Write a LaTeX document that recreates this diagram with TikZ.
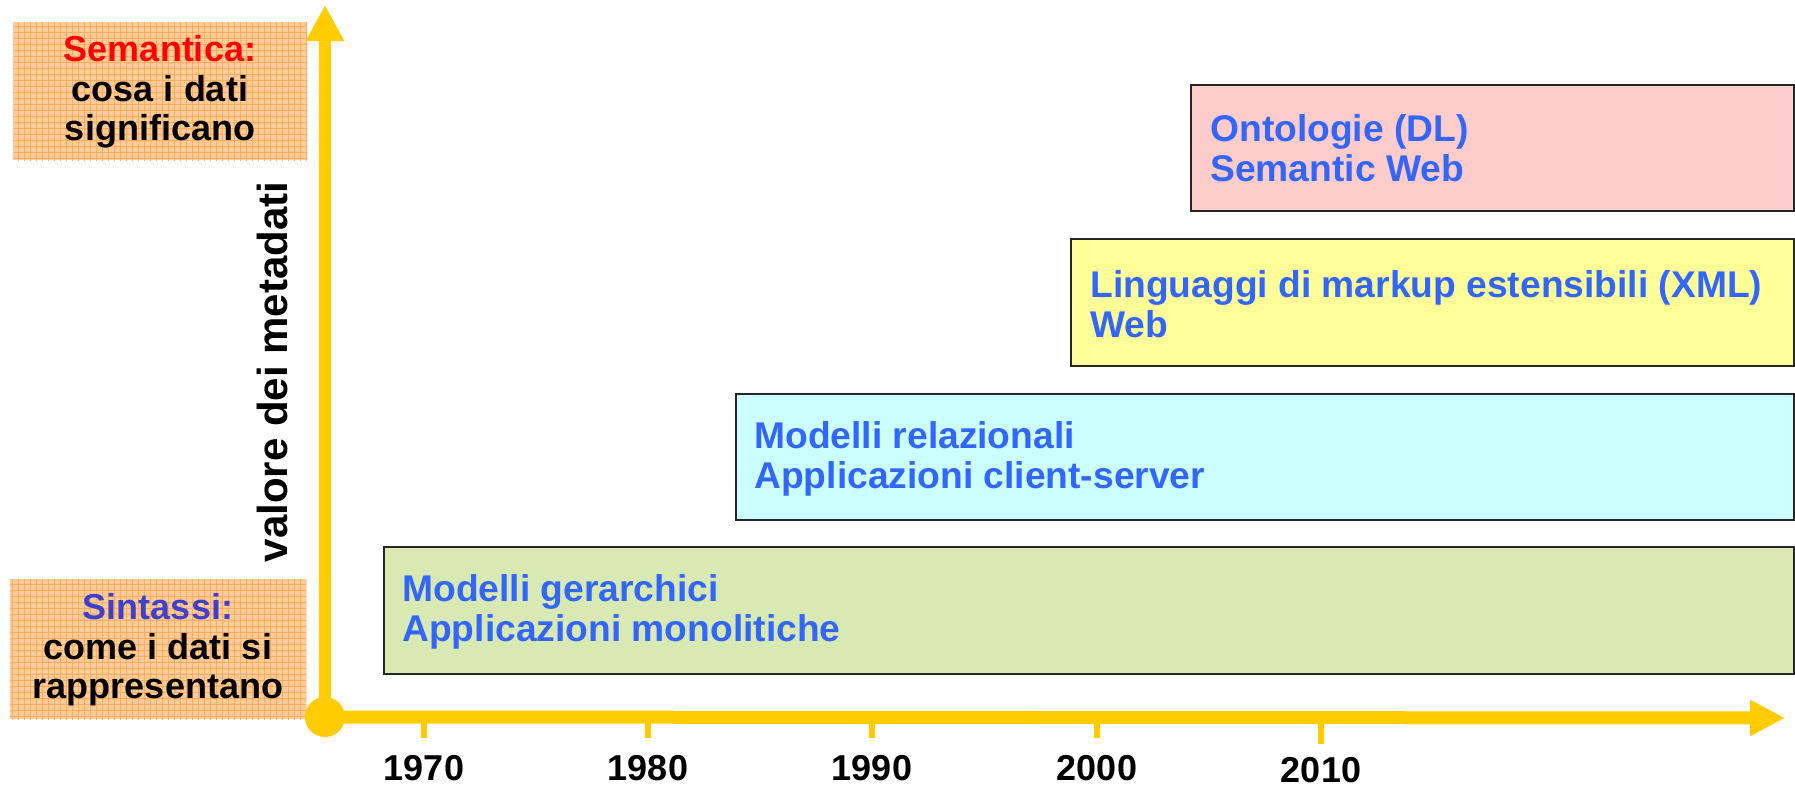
\documentclass[tikz,border=0pt]{standalone}
\usepackage{fontspec}
\setmainfont{Liberation Sans}
\usetikzlibrary{patterns,arrows.meta}
\definecolor{axisy}{HTML}{FFCC00}
\definecolor{greenf}{HTML}{D9E9B3}
\definecolor{cyanf}{HTML}{CCFFFF}
\definecolor{yellowf}{HTML}{FFFF99}
\definecolor{pinkf}{HTML}{FFCCCC}
\definecolor{txtblue}{HTML}{3366FF}
\definecolor{synblue}{HTML}{4040CC}
\definecolor{orangef}{HTML}{FFCC99}
\definecolor{orangeg}{HTML}{FF9933}
\tikzset{
  era/.style={draw=black!85, line width=1.2pt, inner sep=0pt, anchor=north west},
  eratext/.style={anchor=west, inner sep=0pt, align=left, text=txtblue,
    font=\fontsize{18.6}{19.8}\selectfont\bfseries},
  levelbox/.style={fill=orangef, inner sep=0pt, anchor=north west,
    postaction={pattern=grid, pattern color=orangeg!80}},
  leveltext/.style={inner sep=0pt, align=center,
    font=\fontsize{18}{19.8}\selectfont\bfseries},
  axisline/.style={draw=axisy, line width=6pt},
  tickline/.style={draw=axisy, line width=2.6pt},
  yearlabel/.style={anchor=base, inner sep=0pt, font=\fontsize{18}{20}\selectfont\bfseries}
}
\begin{document}
\begin{tikzpicture}[x=0.5pt,y=-0.5pt]
\useasboundingbox (0,0) rectangle (1795,788);

% level boxes (left)
\node[levelbox, minimum width=147pt, minimum height=69pt] (sem) at (13,22) {};
\node[leveltext] (semt) at (160,92) {\textcolor{red}{Semantica:}\\cosa i dati\\significano};
\node[levelbox, minimum width=148pt, minimum height=70pt] (sin) at (10,579) {};
\node[leveltext] (sint) at (158,650) {\textcolor{synblue}{Sintassi:}\\come i dati si\\rappresentano};

% era boxes
\node[era, fill=greenf, minimum width=705pt, minimum height=63.5pt] (g) at (383,546) {};
\node[eratext] (gt) at (402,612) {Modelli gerarchici\\Applicazioni monolitiche};
\node[era, fill=cyanf, minimum width=529pt, minimum height=63pt] (c) at (735,393) {};
\node[eratext] (ct) at (754,459) {Modelli relazionali\\Applicazioni client-server};
\node[era, fill=yellowf, minimum width=361.5pt, minimum height=63.5pt] (y) at (1070,238) {};
\node[eratext] (yt) at (1090,304) {Linguaggi di markup estensibili (XML)\\Web};
\node[era, fill=pinkf, minimum width=301.5pt, minimum height=63pt] (p) at (1190,84) {};
\node[eratext] (pt) at (1210,148) {Ontologie (DL)\\Semantic Web};

% axes
\node[circle, fill=axisy, inner sep=0pt, minimum size=20pt] (o) at (325,717) {};
\coordinate (ytop) at (325,5);
\coordinate (xend) at (1785,718);
\draw[axisline, -{Triangle[length=18pt,width=18pt]}] (o.center) -- (ytop);
\draw[axisline, line width=6.5pt, -{Triangle[length=17.5pt,width=17pt]}] (o.center) -- (xend);

% axis label
\node[rotate=90, inner sep=0pt, font=\fontsize{21}{24}\selectfont\bfseries] (vlab) at (272,372) {valore dei metadati};

% ticks and years
\foreach \xx/\yr/\tl/\bl in {424/1970/738/780, 648/1980/738/780, 872/1990/738/780, 1097/2000/738/780, 1321/2010/744/782}{
  \coordinate (t\yr a) at (\xx,720);
  \coordinate (t\yr b) at (\xx,\tl);
  \draw[tickline] (t\yr a) -- (t\yr b);
  \node[yearlabel] (y\yr) at (\xx,\bl) {\yr};
}
\end{tikzpicture}
\end{document}
